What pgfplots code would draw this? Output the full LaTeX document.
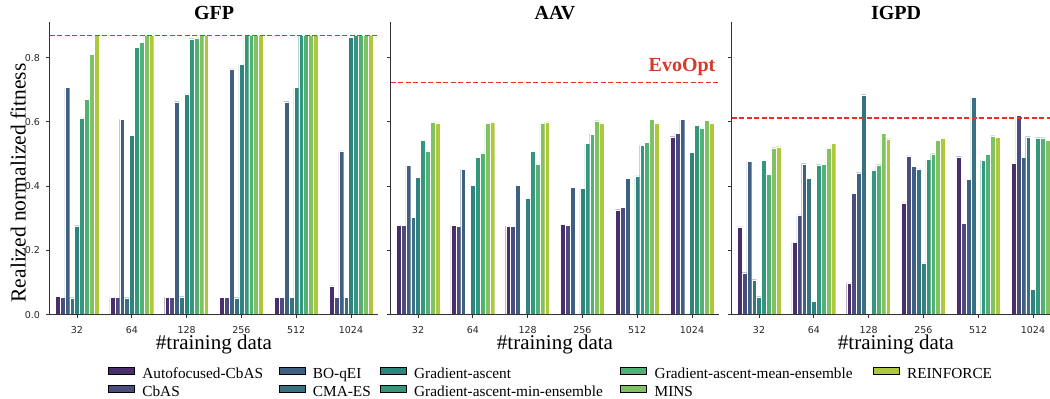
\documentclass[border=0pt]{standalone}
\usepackage{pgfplots}
\pgfplotsset{compat=1.18}
\usepackage{pgfplotstable}
\usepackage{fontspec}
\setmainfont{Liberation Serif}
\newfontfamily\tickfont{DejaVu Sans}

\definecolor{c1}{HTML}{492E6B}
\definecolor{c2}{HTML}{4A4C7E}
\definecolor{c3}{HTML}{406082}
\definecolor{c4}{HTML}{377182}
\definecolor{c5}{HTML}{2F837F}
\definecolor{c6}{HTML}{33977C}
\definecolor{c7}{HTML}{53B074}
\definecolor{c8}{HTML}{80C161}
\definecolor{c9}{HTML}{AEC83D}
\definecolor{refred}{RGB}{238,45,40}
\definecolor{evored}{RGB}{214,58,40}
\definecolor{spine}{HTML}{333333}

% columns: Autofocused-CbAS, CbAS, BO-qEI, CMA-ES, Gradient-ascent,
% GA-min-ensemble, GA-mean-ensemble, MINS, REINFORCE
\pgfplotstableread{
x s1 s2 s3 s4 s5 s6 s7 s8 s9
0 0.057 0.055 0.707 0.053 0.277 0.613 0.671 0.810 0.869
1 0.055 0.055 0.608 0.053 0.559 0.833 0.848 0.869 0.869
2 0.055 0.055 0.663 0.056 0.687 0.859 0.861 0.869 0.869
3 0.055 0.055 0.765 0.053 0.779 0.869 0.869 0.869 0.869
4 0.055 0.055 0.663 0.055 0.707 0.869 0.869 0.869 0.869
5 0.090 0.055 0.510 0.055 0.864 0.869 0.869 0.869 0.869
}\gfp
\pgfplotstableread{
x s1 s2 s3 s4 s5 s6 s7 s8 s9
0 0.278 0.278 0.465 0.304 0.427 0.542 0.510 0.600 0.597
1 0.278 0.276 0.452 nan 0.402 0.490 0.504 0.595 0.600
2 0.276 0.276 0.402 nan 0.362 0.508 0.469 0.595 0.600
3 0.282 0.278 0.396 nan 0.393 0.533 0.562 0.604 0.597
4 0.327 0.335 0.425 nan 0.432 0.527 0.537 0.608 0.597
5 0.554 0.565 0.608 nan 0.505 0.590 0.580 0.606 0.595
}\aav
\pgfplotstableread{
x s1 s2 s3 s4 s5 s6 s7 s8 s9
0 0.273 0.131 0.478 0.109 0.056 0.480 0.438 0.520 0.523
1 0.225 0.311 0.470 0.424 0.042 0.467 0.469 0.518 0.533
2 0.099 0.377 0.442 0.685 nan 0.451 0.467 0.564 0.548
3 0.348 0.494 0.462 0.454 0.161 0.483 0.501 0.543 0.550
4 0.492 0.285 0.422 0.677 nan 0.480 0.500 0.557 0.552
5 0.472 0.620 0.490 0.554 0.079 0.551 0.551 0.543 0.543
}\igpd

\pgfplotsset{
  panel/.style={
    scale only axis, width=328.8pt, height=293pt, anchor=south west,
    xmin=-0.5, xmax=5.5, ymin=0, ymax=0.912,
    axis on top,
    axis x line*=bottom, axis y line*=left,
    axis line style={-, spine, line width=0.9pt},
    xtick={0,1,2,3,4,5}, xticklabels={32,64,128,256,512,1024},
    ytick={0,0.2,0.4,0.6,0.8},
    tick align=outside, major tick length=3.5pt,
    tick style={spine, line width=0.9pt},
    xticklabel style={font=\tickfont\fontsize{9.5}{11}\selectfont, text=black!85, anchor=base, inner sep=0pt, yshift=-14.8pt},
    yticklabel style={font=\tickfont\fontsize{9.5}{11}\selectfont, text=black!85, anchor=east, inner sep=0pt, xshift=-6pt,
      /pgf/number format/.cd, fixed, fixed zerofill, precision=1, assume math mode=true},
    every axis title/.style={font=\bfseries\fontsize{20}{24}\selectfont, anchor=base, at={(axis description cs:0.5,1)}, yshift=2.5pt, inner sep=0pt},
    xlabel={\#training data},
    every axis x label/.style={font=\fontsize{21}{25}\selectfont, anchor=base, at={(axis description cs:0.5,0)}, yshift=-35pt, inner sep=0pt},
  },
  barstyle/.style={ybar, bar width=0.08889, draw=white, line width=0.2pt, fill=#1, forget plot},
  refline/.style={draw=refred, color=refred, line width=1.5pt, dash pattern=on 5pt off 2.5pt, sharp plot, no marks, forget plot},
}

\newcommand\panelbars[1]{%
  \addplot[barstyle=c1, bar shift=-0.35556] table[x=x,y=s1]{#1};
  \addplot[barstyle=c2, bar shift=-0.26667] table[x=x,y=s2]{#1};
  \addplot[barstyle=c3, bar shift=-0.17778] table[x=x,y=s3]{#1};
  \addplot[barstyle=c4, bar shift=-0.08889] table[x=x,y=s4]{#1};
  \addplot[barstyle=c5, bar shift=0] table[x=x,y=s5]{#1};
  \addplot[barstyle=c6, bar shift=0.08889] table[x=x,y=s6]{#1};
  \addplot[barstyle=c7, bar shift=0.17778] table[x=x,y=s7]{#1};
  \addplot[barstyle=c8, bar shift=0.26667] table[x=x,y=s8]{#1};
  \addplot[barstyle=c9, bar shift=0.35556] table[x=x,y=s9]{#1};
}

\begin{document}
\begin{tikzpicture}
% GFP
\begin{axis}[panel, at={(49.6pt,84.3pt)}, title={GFP},
  legend columns=5, legend cell align=left,
  legend image code/.code={\fill[#1] (0pt,-0.5pt) rectangle (26pt,7pt);},
  legend style={
    at={(0.1776,-0.1768)}, anchor=north west,
    draw=none, fill=none, inner sep=0pt, outer sep=0pt,
    font=\fontsize{15.3}{18}\selectfont,
    nodes={inner sep=0pt, text height=11pt, text depth=2pt},
    row sep=4.5pt,
    /tikz/column 1/.style={column sep=8pt},
    /tikz/column 2/.style={column sep=15.5pt},
    /tikz/column 3/.style={column sep=8pt},
    /tikz/column 4/.style={column sep=9pt},
    /tikz/column 5/.style={column sep=8pt},
    /tikz/column 6/.style={column sep=17.5pt},
    /tikz/column 7/.style={column sep=8pt},
    /tikz/column 8/.style={column sep=20pt},
    /tikz/column 9/.style={column sep=8pt},
  }]
\panelbars{\gfp}
\addplot[refline] coordinates {(-0.5,0.869) (5.5,0.869)};
\addlegendimage{fill=c1}\addlegendentry{Autofocused-CbAS}
\addlegendimage{fill=c3}\addlegendentry{BO-qEI}
\addlegendimage{fill=c5}\addlegendentry{Gradient-ascent}
\addlegendimage{fill=c7}\addlegendentry{Gradient-ascent-mean-ensemble}
\addlegendimage{fill=c9}\addlegendentry{REINFORCE}
\addlegendimage{fill=c2}\addlegendentry{CbAS}
\addlegendimage{fill=c4}\addlegendentry{CMA-ES}
\addlegendimage{fill=c6}\addlegendentry{Gradient-ascent-min-ensemble}
\addlegendimage{fill=c8}\addlegendentry{MINS}
\end{axis}
% AAV
\begin{axis}[panel, at={(390.6pt,84.3pt)}, title={AAV}, yticklabels={}]
\panelbars{\aav}
\addplot[refline] coordinates {(-0.5,0.722) (5.5,0.722)};
\node[anchor=base east, text=evored, font=\bfseries\fontsize{20}{24}\selectfont, inner sep=0pt] at (axis cs:5.43,0.758) {EvoOpt};
\end{axis}
% IGPD
\begin{axis}[panel, at={(731.6pt,84.3pt)}, title={IGPD}, yticklabels={}]
\panelbars{\igpd}
\addplot[refline] coordinates {(-0.5,0.613) (5.5,0.613)};
\end{axis}
% y label
\node[rotate=90, anchor=base, font=\fontsize{21.5}{26}\selectfont, inner sep=0pt] at (25.7pt,216pt) {Realized normalized fitness};
\pgfresetboundingbox
\useasboundingbox (0,0) rectangle (1050pt,399pt);
\end{tikzpicture}
\end{document}
